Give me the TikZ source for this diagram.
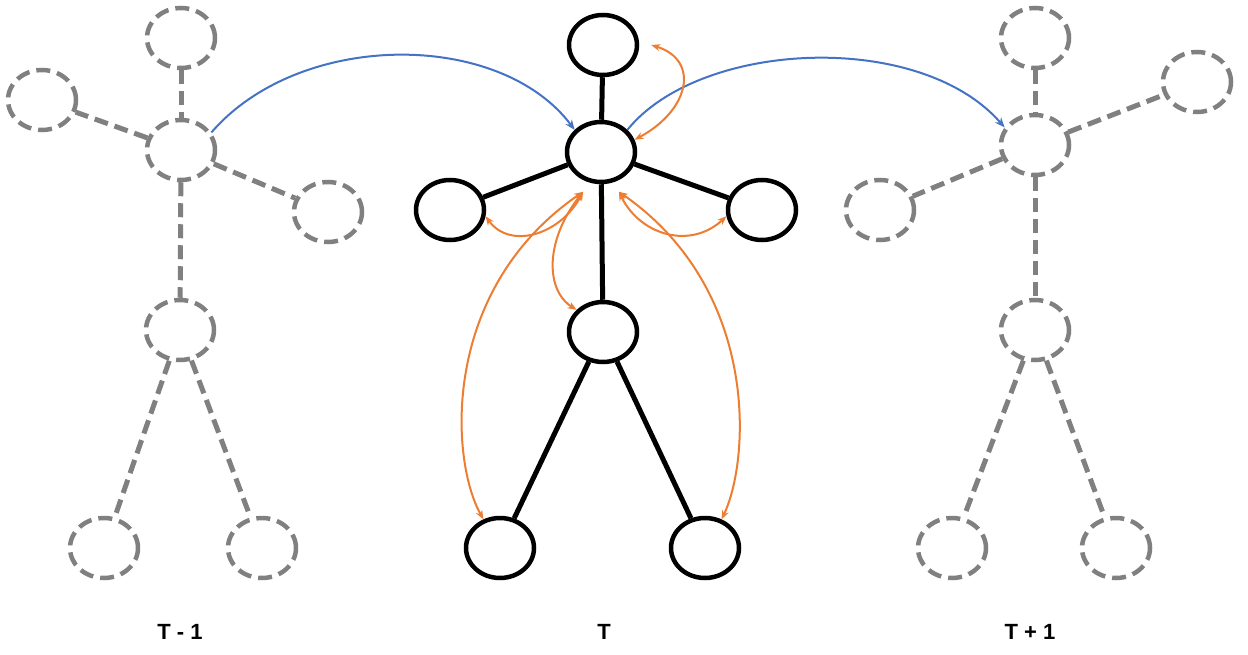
\documentclass[tikz,border=0pt]{standalone}
\usepackage{fontspec}
\setmainfont{Liberation Sans}
\usetikzlibrary{shapes.geometric,arrows.meta}
\definecolor{jgray}{RGB}{128,128,128}
\definecolor{jblue}{RGB}{68,114,196}
\definecolor{jorange}{RGB}{237,125,49}

\begin{document}
\begin{tikzpicture}[x=1pt,y=-1pt,
    joint/.style={ellipse,draw,line width=4.5pt,minimum width=68pt,minimum height=60pt,inner sep=0pt},
    ghost/.style={joint,draw=jgray,dash pattern=on 14pt off 7pt},
    bone/.style={line width=5pt},
    gbone/.style={line width=5pt,draw=jgray,dash pattern=on 14pt off 7pt},
    move/.style={draw=jblue,line width=2pt,-{Stealth[length=10pt,width=8pt]}},
    link/.style={draw=jorange,line width=2pt,{Stealth[length=9pt,width=7pt]}-{Stealth[length=9pt,width=7pt]}},
    lab/.style={font=\bfseries\fontsize{22}{26}\selectfont}]

    \useasboundingbox (0,0) rectangle (1248,655);

    % frame T-1
    \node[ghost] (ah) at (181,38) {};
    \node[ghost] (ac) at (181,150) {};
    \node[ghost] (al) at (42,100) {};
    \node[ghost] (ar) at (328,212) {};
    \node[ghost] (ap) at (180,330) {};
    \node[ghost] (af) at (104,548) {};
    \node[ghost] (ag) at (262,548) {};
    \draw[gbone] (ah) -- (ac);
    \draw[gbone] (ac) -- (al);
    \draw[gbone] (ac) -- (ar);
    \draw[gbone] (ac) -- (ap);
    \draw[gbone] (ap) -- (af);
    \draw[gbone] (ap) -- (ag);

    % frame T
    \node[joint] (bh) at (603,45) {};
    \node[joint] (bc) at (601,152) {};
    \node[joint] (bl) at (450,210) {};
    \node[joint] (br) at (762,210) {};
    \node[joint] (bp) at (603,332) {};
    \node[joint] (bf) at (500,548) {};
    \node[joint] (bg) at (705,548) {};
    \draw[bone] (bh) -- (bc);
    \draw[bone] (bc) -- (bl);
    \draw[bone] (bc) -- (br);
    \draw[bone] (bc) -- (bp);
    \draw[bone] (bp) -- (bf);
    \draw[bone] (bp) -- (bg);

    % frame T+1
    \node[ghost] (ch) at (1035,38) {};
    \node[ghost] (cc) at (1035,145) {};
    \node[ghost] (cr) at (1197,82) {};
    \node[ghost] (cl) at (880,210) {};
    \node[ghost] (cp) at (1035,330) {};
    \node[ghost] (cf) at (952,548) {};
    \node[ghost] (cg) at (1116,548) {};
    \draw[gbone] (ch) -- (cc);
    \draw[gbone] (cc) -- (cr);
    \draw[gbone] (cc) -- (cl);
    \draw[gbone] (cc) -- (cp);
    \draw[gbone] (cp) -- (cf);
    \draw[gbone] (cp) -- (cg);

    % temporal links
    \draw[move] (ac.30) .. controls (300,30) and (500,30) .. (bc.140);
    \draw[move] (bc.40) .. controls (700,40) and (920,30) .. (cc.150);

    % spatial links
    \draw[link] (bh.east) ++(12,0) .. controls (700,60) and (690,110) .. (bc.20);
    \draw[link] (bc.245) ++(-4,10) .. controls (560,235) and (510,250) .. (bl.-10);
    \draw[link] (bc.245) ++(-4,10) .. controls (545,240) and (545,290) .. (bp.140);
    \draw[link] (bc.245) ++(-4,10) .. controls (440,290) and (450,460) .. (bf.120);
    \draw[link] (bc.295) ++(4,10) .. controls (640,235) and (690,250) .. (br.190);
    \draw[link] (bc.295) ++(4,10) .. controls (760,290) and (750,460) .. (bg.60);

    \node[lab] (ta) at (180,632) {T - 1};
    \node[lab] (tb) at (604,632) {T};
    \node[lab] (tc) at (1030,632) {T + 1};
\end{tikzpicture}
\end{document}
